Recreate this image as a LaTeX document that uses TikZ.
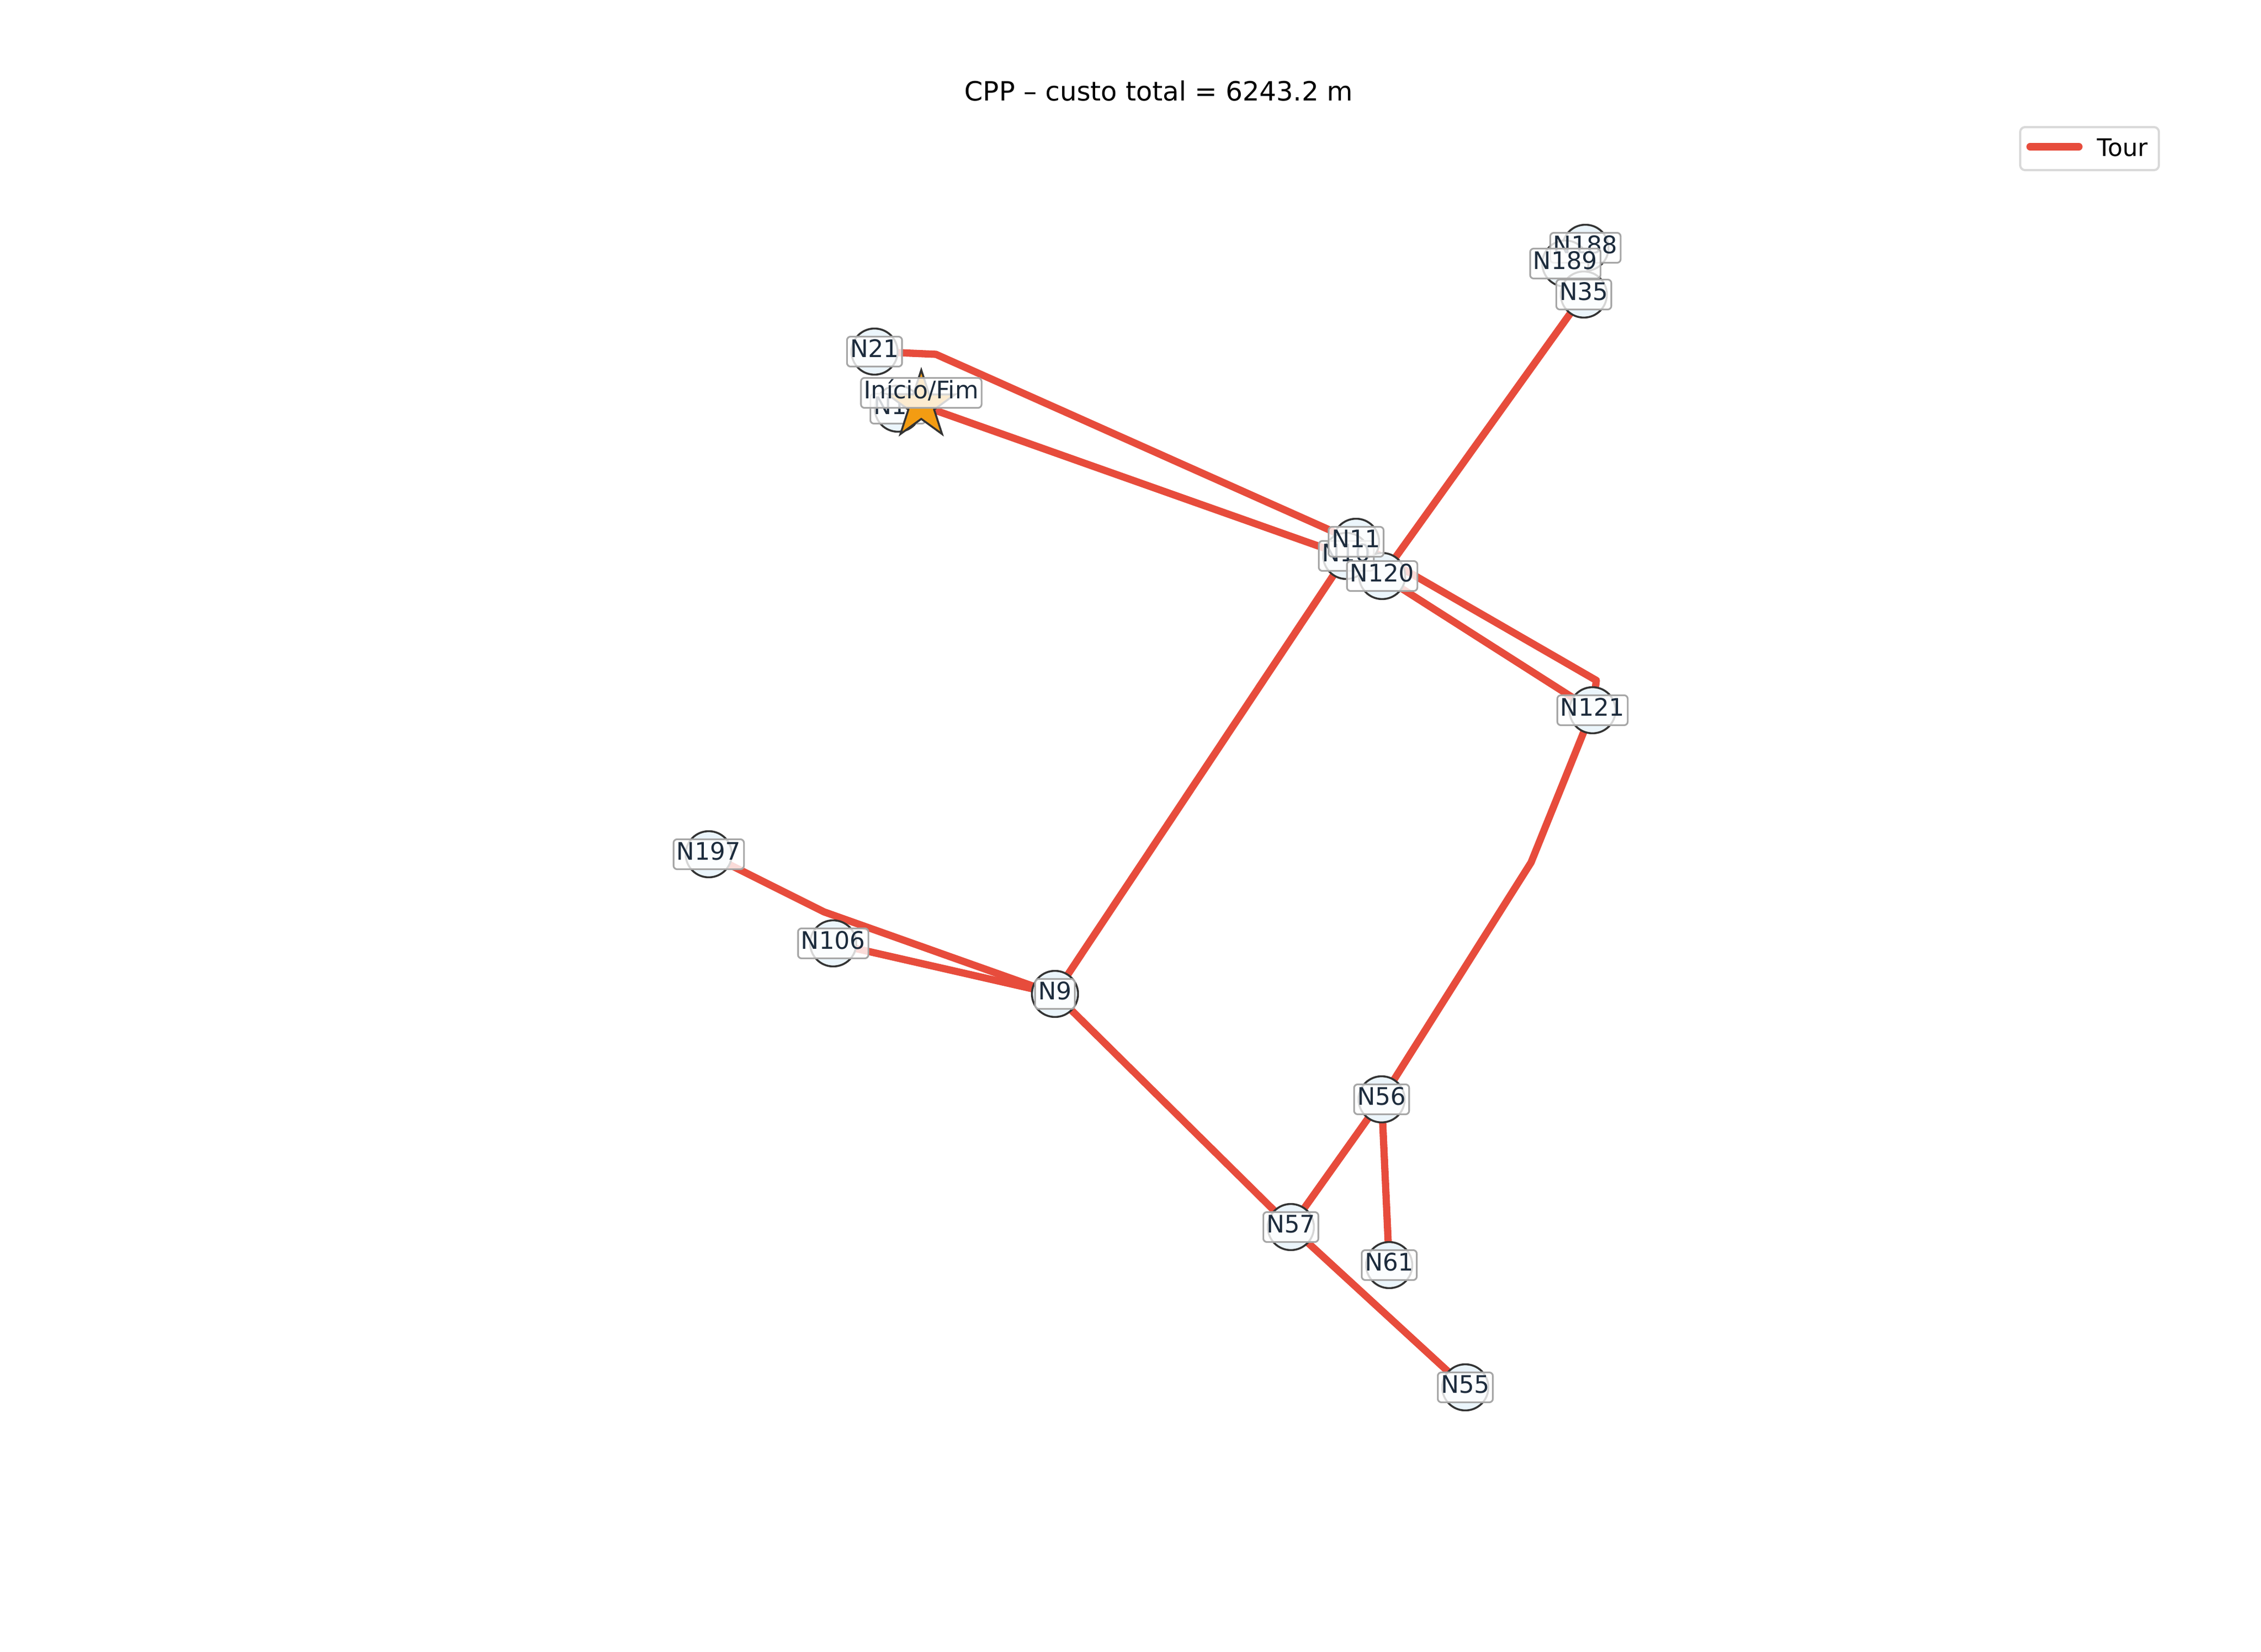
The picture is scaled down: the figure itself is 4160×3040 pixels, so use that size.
\documentclass[tikz,border=0pt]{standalone}
\usepackage{fontspec}
\setmainfont{DejaVu Sans}
\usetikzlibrary{shapes.geometric,backgrounds}
\definecolor{tourred}{HTML}{E74C3C}
\definecolor{nodefill}{HTML}{EBF5FB}
\definecolor{nodeedge}{HTML}{333333}
\definecolor{labeltext}{HTML}{1C2B3C}
\definecolor{startfill}{HTML}{F39C12}
\begin{document}
\begin{tikzpicture}[x=0.225pt,y=-0.225pt,
  vertex/.style={circle,draw=nodeedge,fill=nodefill,line width=0.8pt,minimum size=19.1pt,inner sep=0pt},
  tag/.style={draw=black!35,line width=0.7pt,fill=white,fill opacity=0.8,text opacity=1,text=labeltext,
    rounded corners=1.5pt,font=\fontsize{10}{12}\selectfont,inner xsep=1.3pt,inner ysep=1pt,
    text height=7.65pt,text depth=2.75pt},
  tour/.style={draw=tourred,line width=3pt,line cap=round,line join=round}]
\useasboundingbox (0,0) rectangle (4160,3040);
\node[anchor=base,font=\fontsize{11}{13}\selectfont] (title) at (2132,186) {CPP – custo total = 6243.2 m};
% vertices
\node[vertex] (n21) at (1609,647) {};
\node[vertex] (n19) at (1652,752) {};
\node[vertex] (n188) at (2917,456) {};
\node[vertex] (n189) at (2880,485) {};
\node[vertex] (n35) at (2914,542) {};
\node[vertex] (n11) at (2495,997) {};
\node[vertex] (n10) at (2477,1023) {};
\node[vertex] (n120) at (2543,1060) {};
\node[vertex] (n121) at (2930,1307) {};
\node[vertex] (n197) at (1304,1572) {};
\node[vertex] (n106) at (1533,1736) {};
\node[vertex] (n9) at (1941,1829) {};
\node[vertex] (n56) at (2542,2023) {};
\node[vertex] (n57) at (2375,2258) {};
\node[vertex] (n61) at (2556,2328) {};
\node[vertex] (n55) at (2696,2553) {};
% bends of the tour
\coordinate (b21) at (1722,652);
\coordinate (b121) at (2937,1252);
\coordinate (b56) at (2817,1587);
\coordinate (b197) at (1516,1678);
% labels
\node[tag] at (n21) {N21};
\node[tag] at (n19) {N19};
\node[tag] at (n188) {N188};
\node[tag] at (n189) {N189};
\node[tag] at (n35) {N35};
\node[tag] at (n10) {N10};
\node[tag] at (n11) {N11};
\node[tag] at (n120) {N120};
\node[tag] at (n121) {N121};
\node[tag] at (n197) {N197};
\node[tag] at (n106) {N106};
\node[tag] at (n9) {N9};
\node[tag] at (n56) {N56};
\node[tag] at (n57) {N57};
\node[tag] at (n61) {N61};
\node[tag] at (n55) {N55};
% start
\node[star,star points=5,star point ratio=2.618,minimum size=29.3pt,inner sep=0pt,
  draw=nodeedge,line width=0.8pt,fill=startfill] (start) at (1695,746) {};
\node[tag] (startlabel) at (1695,723) {Início/Fim};
% tour
\begin{pgfonlayer}{background}
\draw[tour] (n21.center) -- (b21) -- (n11.center);
\draw[tour] (start.center) -- (n10.center);
\draw[tour] (n11.center) -- (b121) -- (n121.center);
\draw[tour] (n120.center) -- (n121.center);
\draw[tour] (n35.center) -- (n120.center);
\draw[tour] (n121.center) -- (b56) -- (n56.center);
\draw[tour] (n10.center) -- (n9.center);
\draw[tour] (n9.center) -- (n106.center);
\draw[tour] (n9.center) -- (b197) -- (n197.center);
\draw[tour] (n9.center) -- (n57.center) -- (n55.center);
\draw[tour] (n57.center) -- (n56.center) -- (n61.center);
\end{pgfonlayer}
% legend
\node[draw=black!15,line width=0.9pt,rounded corners=2pt,fill=white,minimum width=57.4pt,minimum height=17.8pt,
  inner sep=0pt] (legend) at (3844.5,273.5) {};
\coordinate (legA) at (3735,270);
\coordinate (legB) at (3825,270);
\draw[tour] (legA) -- (legB);
\node[anchor=base west,font=\fontsize{10}{12}\selectfont,inner sep=0pt] (legtext) at (3858,288) {Tour};
\end{tikzpicture}
\end{document}
